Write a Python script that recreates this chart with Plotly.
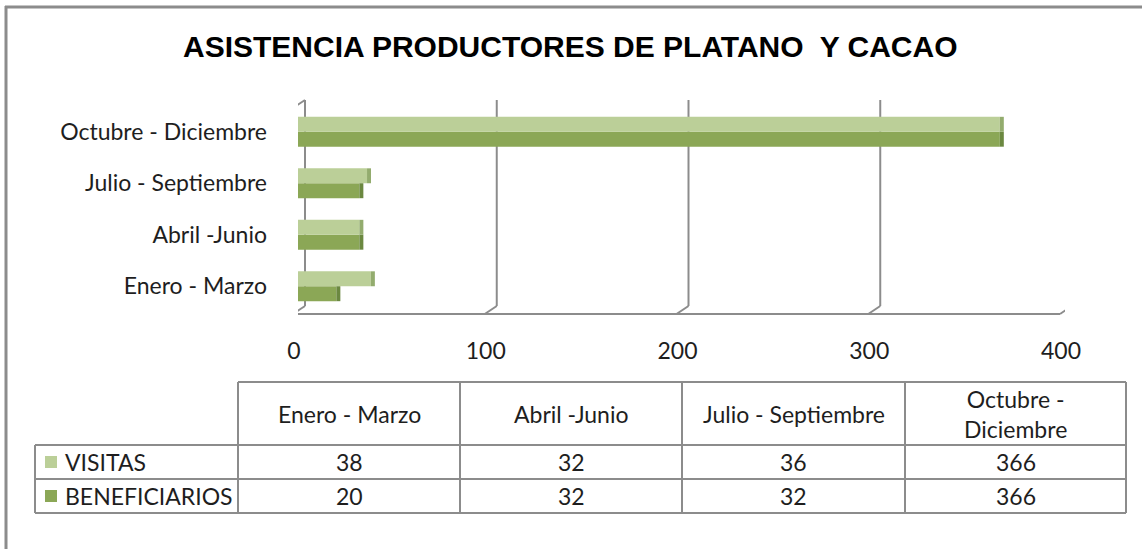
import plotly.graph_objects as go

# ---------------- data ----------------
categories = ["Enero - Marzo", "Abril -Junio", "Julio - Septiembre", "Octubre - Diciembre"]
visitas = [38, 32, 36, 366]
beneficiarios = [20, 32, 32, 366]
series_names = ["VISITAS", "BENEFICIARIOS"]
x_ticks = [0, 100, 200, 300, 400]
title_text = "ASISTENCIA PRODUCTORES DE PLATANO  Y CACAO"

# ---------------- styling / layout ----------------
W, H = 1142, 549
PL, PR = 298, 1065      # plot area left/right (px)
PT, PB = 106, 312       # plot area top/bottom (px)
XMIN, XMAX = 0, 400
LIGHT = "#BBCF98"
DARK = "#8BA756"
LIGHT_SIDE = "#93AC6E"
DARK_SIDE = "#6B8840"
GRID = "#8C8C8C"
TXT = "#1E1E1E"
FONT = "Lato"
FS = 23


def pxx(px):
    return (px - PL) / (PR - PL)


def pxy(py):
    return (PB - py) / (PB - PT)


def dxv(v, off):
    return v + off * (XMAX - XMIN) / (PR - PL)


CAP = dxv(0, 4)  # depth of the bar end face in data units

fig = go.Figure()
fig.add_trace(go.Bar(y=categories, x=beneficiarios, orientation="h", name=series_names[1],
                     marker=dict(color=DARK, line=dict(width=0)), showlegend=False, hoverinfo="x+y",
                     offsetgroup="b"))
fig.add_trace(go.Bar(y=categories, x=visitas, orientation="h", name=series_names[0],
                     marker=dict(color=LIGHT, line=dict(width=0)), showlegend=False, hoverinfo="x+y",
                     offsetgroup="v"))
# darker end faces (pseudo 3-D)
fig.add_trace(go.Bar(y=categories, x=[CAP] * len(beneficiarios), base=beneficiarios, orientation="h",
                     marker=dict(color=DARK_SIDE, line=dict(width=0)), showlegend=False, hoverinfo="skip",
                     offsetgroup="b"))
fig.add_trace(go.Bar(y=categories, x=[CAP] * len(visitas), base=visitas, orientation="h",
                     marker=dict(color=LIGHT_SIDE, line=dict(width=0)), showlegend=False, hoverinfo="skip",
                     offsetgroup="v"))

shapes = []
BACK, FRONT = 7, -5
Y_TOP_BACK, Y_BOT_BACK, Y_TOP_FRONT, Y_FLOOR = 100, 306, 108, 314
for v in x_ticks:
    shapes.append(dict(type="line", xref="x", yref="paper", layer="below",
                       x0=dxv(v, BACK), x1=dxv(v, BACK), y0=pxy(Y_TOP_BACK), y1=pxy(Y_BOT_BACK),
                       line=dict(color=GRID, width=2)))
    shapes.append(dict(type="line", xref="x", yref="paper", layer="below",
                       x0=dxv(v, BACK), x1=dxv(v, FRONT), y0=pxy(Y_BOT_BACK), y1=pxy(Y_FLOOR),
                       line=dict(color=GRID, width=2)))
shapes.append(dict(type="line", xref="x", yref="paper", layer="below",
                   x0=dxv(x_ticks[0], FRONT), x1=dxv(x_ticks[-1], FRONT), y0=pxy(Y_FLOOR), y1=pxy(Y_FLOOR),
                   line=dict(color=GRID, width=2)))
shapes.append(dict(type="line", xref="x", yref="paper", layer="below",
                   x0=dxv(x_ticks[0], FRONT), x1=dxv(x_ticks[0], FRONT), y0=pxy(Y_TOP_FRONT), y1=pxy(Y_FLOOR),
                   line=dict(color=GRID, width=2)))
shapes.append(dict(type="line", xref="x", yref="paper", layer="below",
                   x0=dxv(x_ticks[0], FRONT), x1=dxv(x_ticks[0], BACK), y0=pxy(Y_TOP_FRONT), y1=pxy(Y_TOP_BACK),
                   line=dict(color=GRID, width=2)))

# outer chart frame (left & top edges visible)
shapes.append(dict(type="line", xref="paper", yref="paper", x0=pxx(6), x1=pxx(6), y0=pxy(6), y1=pxy(H + 5),
                   line=dict(color=GRID, width=3)))
shapes.append(dict(type="line", xref="paper", yref="paper", x0=pxx(5), x1=pxx(W + 5), y0=pxy(7), y1=pxy(7),
                   line=dict(color=GRID, width=3)))

# ---------------- data table ----------------
col_x = [35, 238, 460, 682, 905, 1126]
row_y = [382, 445, 479, 513]
TB = "#8C8C8C"
shapes.append(dict(type="line", xref="paper", yref="paper", x0=pxx(col_x[1]), x1=pxx(col_x[-1]),
                   y0=pxy(row_y[0]), y1=pxy(row_y[0]), line=dict(color=TB, width=2)))
for ry in row_y[1:]:
    shapes.append(dict(type="line", xref="paper", yref="paper", x0=pxx(col_x[0]), x1=pxx(col_x[-1]),
                       y0=pxy(ry), y1=pxy(ry), line=dict(color=TB, width=2)))
shapes.append(dict(type="line", xref="paper", yref="paper", x0=pxx(col_x[0]), x1=pxx(col_x[0]),
                   y0=pxy(row_y[1]), y1=pxy(row_y[-1]), line=dict(color=TB, width=2)))
for cx in col_x[1:]:
    shapes.append(dict(type="line", xref="paper", yref="paper", x0=pxx(cx), x1=pxx(cx),
                       y0=pxy(row_y[0]), y1=pxy(row_y[-1]), line=dict(color=TB, width=2)))

annotations = []
for i, c in enumerate(categories):
    label = c if len(c) < 19 else c.replace("- ", "-<br>")
    annotations.append(dict(xref="paper", yref="paper", x=pxx((col_x[i + 1] + col_x[i + 2]) / 2),
                            y=pxy((row_y[0] + row_y[1]) / 2), text=label, showarrow=False,
                            xanchor="center", yanchor="middle", font=dict(family=FONT, size=FS, color=TXT)))
for r, (name, vals, colr) in enumerate([(series_names[0], visitas, LIGHT), (series_names[1], beneficiarios, DARK)]):
    yc = (row_y[r + 1] + row_y[r + 2]) / 2
    shapes.append(dict(type="rect", xref="paper", yref="paper", x0=pxx(45), x1=pxx(57),
                       y0=pxy(yc - 6), y1=pxy(yc + 6), fillcolor=colr, line=dict(width=0)))
    annotations.append(dict(xref="paper", yref="paper", x=pxx(63), y=pxy(yc), text=name, showarrow=False,
                            xanchor="left", yanchor="middle", font=dict(family=FONT, size=FS, color=TXT)))
    for i, v in enumerate(vals):
        annotations.append(dict(xref="paper", yref="paper", x=pxx((col_x[i + 1] + col_x[i + 2]) / 2),
                                y=pxy(yc), text=str(v), showarrow=False, xanchor="center", yanchor="middle",
                                font=dict(family=FONT, size=FS, color=TXT)))

annotations.append(dict(xref="paper", yref="paper", x=pxx(570), y=pxy(47), text="<b>" + title_text + "</b>",
                        showarrow=False, xanchor="center", yanchor="middle",
                        font=dict(family="Liberation Sans, Arial", size=30, color="#000000")))

fig.update_layout(
    width=W, height=H, autosize=False,
    margin=dict(l=PL, r=W - PR, t=PT, b=H - PB, pad=0),
    paper_bgcolor="white", plot_bgcolor="rgba(0,0,0,0)",
    barmode="group", bargap=0.42, bargroupgap=0,
    font=dict(family=FONT, size=FS, color=TXT),
    shapes=shapes, annotations=annotations,
    xaxis=dict(range=[XMIN, XMAX], tickvals=x_ticks, ticktext=[str(t) for t in x_ticks],
               showgrid=False, zeroline=False, showline=False, ticks="",
               ticklabelstandoff=23, ticklabelshift=-4, fixedrange=True,
               tickfont=dict(family=FONT, size=FS, color=TXT)),
    yaxis=dict(categoryorder="array", categoryarray=categories, showgrid=False, zeroline=False,
               showline=False, ticks="", ticklabelstandoff=30, fixedrange=True,
               tickfont=dict(family=FONT, size=FS, color=TXT)),
)

fig.write_html("out.html", config={"displayModeBar": False},
               post_script="document.body.style.margin='0';document.body.style.overflow='hidden';")
